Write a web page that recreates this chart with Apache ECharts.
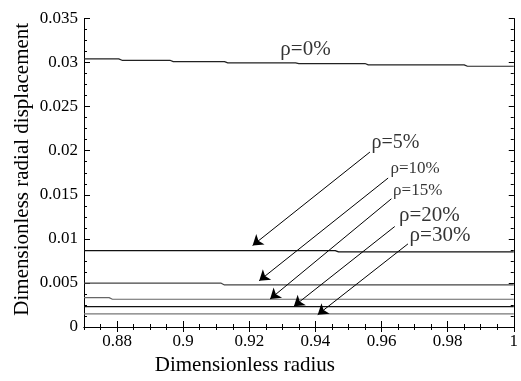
<!DOCTYPE html>
<html>
<head>
<meta charset="utf-8">
<script src="https://cdn.jsdelivr.net/npm/echarts@6/dist/echarts.min.js"></script>
<style>
html,body{margin:0;padding:0;background:#fff;}
#chart{width:521px;height:381px;}
</style>
</head>
<body>
<div id="chart"></div>
<script>
// ---- data ----
const xTickLabels = [0.88, 0.9, 0.92, 0.94, 0.96, 0.98, 1];
const yTickLabels = [0, 0.005, 0.01, 0.015, 0.02, 0.025, 0.03, 0.035];

const rho0  = [[0.87,0.03042],[0.8805,0.03042],[0.8815,0.03026],[0.896,0.03026],[0.897,0.03011],[0.9125,0.03011],[0.9135,0.02997],[0.934,0.02997],[0.935,0.02989],[0.955,0.02989],[0.956,0.02974],[0.985,0.02974],[0.986,0.02958],[1,0.02958]];
const rho5  = [[0.87,0.00867],[0.946,0.00867],[0.947,0.00852],[1,0.00852]];
const rho10 = [[0.87,0.00497],[0.9115,0.00497],[0.9125,0.00477],[1,0.00477]];
const rho15 = [[0.87,0.00333],[0.8776,0.00333],[0.8786,0.00315],[1,0.00315]];
const rho20 = [[0.87,0.00231],[1,0.00231]];
const rho30 = [[0.87,0.00148],[1,0.00148]];

const labelTexts   = ['ρ=0%','ρ=5%','ρ=10%','ρ=15%','ρ=20%','ρ=30%'];
const labelAnchors = [[0.9294,0.03148],[0.9570,0.02091],[0.9627,0.01803],[0.9635,0.01549],[0.9653,0.01261],[0.9685,0.01034]];
const arrowFrom = [[0.9565,0.01985],[0.9620,0.01690],[0.9630,0.01455],[0.9640,0.01140],[0.9680,0.00943]];
const arrowTo   = [[0.9210,0.00925],[0.9230,0.00525],[0.9263,0.00318],[0.9335,0.00236],[0.9407,0.00140]];

// ---- styles ----
const FONT = '"Liberation Serif", "Times New Roman", serif';
const labelFontSizes = [21, 20, 17, 17, 21, 21];
const seriesColors = ['#222','#111','#444','#666','#111','#777'];

const chart = echarts.init(document.getElementById('chart'), null, {renderer:'canvas'});

const baseX = {type:'value', min:0.87, max:1, splitLine:{show:false}, gridIndex:0};
const baseY = {type:'value', min:0, max:0.035, splitLine:{show:false}, gridIndex:0};
const lineStyle = {color:'#000', width:1};

const xAxes = [
  Object.assign({}, baseX, {position:'bottom', interval:0.005,
    axisLine:{show:true, lineStyle},
    axisTick:{show:true, inside:true, length:6, lineStyle, customValues:xTickLabels},
    axisLabel:{show:true, margin:6, color:'#000', fontFamily:FONT, fontSize:17, customValues:xTickLabels,
      formatter: v => String(+v.toFixed(2))},
    name:'Dimensionless radius', nameLocation:'middle', nameGap:28, nameMoveOverlap:false,
    nameTextStyle:{fontFamily:FONT, fontSize:21, color:'#000', padding:[0,108,0,0]}}),
  Object.assign({}, baseX, {position:'bottom', interval:0.005,
    axisLine:{show:false}, axisTick:{show:true, inside:true, length:3, lineStyle}, axisLabel:{show:false}}),
  Object.assign({}, baseX, {position:'top', interval:0.005,
    axisLine:{show:true, lineStyle}, axisTick:{show:true, inside:true, length:3, lineStyle}, axisLabel:{show:false}}),
  Object.assign({}, baseX, {position:'top', interval:0.005,
    axisLine:{show:false}, axisTick:{show:true, inside:true, length:5, lineStyle, customValues:xTickLabels}, axisLabel:{show:false}})
];

const yAxes = [
  Object.assign({}, baseY, {position:'left', interval:0.005,
    axisLine:{show:true, lineStyle},
    axisTick:{show:true, inside:true, length:6, lineStyle},
    axisLabel:{show:true, margin:6, color:'#000', fontFamily:FONT, fontSize:17,
      formatter: v => String(+v.toFixed(3))},
    name:'Dimensionless radial displacement', nameLocation:'middle', nameGap:51, nameMoveOverlap:false,
    nameTextStyle:{fontFamily:FONT, fontSize:21, color:'#000', padding:[0,0,0,7]}}),
  Object.assign({}, baseY, {position:'left', interval:0.00125,
    axisLine:{show:false}, axisTick:{show:true, inside:true, length:3, lineStyle}, axisLabel:{show:false}}),
  Object.assign({}, baseY, {position:'right', interval:0.00125,
    axisLine:{show:true, lineStyle}, axisTick:{show:true, inside:true, length:3, lineStyle}, axisLabel:{show:false}}),
  Object.assign({}, baseY, {position:'right', interval:0.005,
    axisLine:{show:false}, axisTick:{show:true, inside:true, length:5, lineStyle}, axisLabel:{show:false}})
];

const curves = [rho0, rho5, rho10, rho15, rho20, rho30];
const series = curves.map((d, i) => ({
  type:'line', name:labelTexts[i], data:d, showSymbol:false, symbol:'none',
  lineStyle:{color:seriesColors[i], width:1.2}, xAxisIndex:0, yAxisIndex:0,
  silent:true, animation:false
}));

series.push({
  type:'scatter', name:'labels', xAxisIndex:0, yAxisIndex:0, symbolSize:0, silent:true, animation:false,
  data: labelAnchors.map((p, i) => ({
    value:[p[0], p[1]], name:labelTexts[i],
    label:{show:true, position:'right', distance:0, formatter:'{b}', color:'#000',
      fontFamily:FONT, fontSize:labelFontSizes[i]}
  }))
});

series.push({
  type:'line', name:'arrows', xAxisIndex:0, yAxisIndex:0, data:[], silent:true, animation:false,
  markLine:{
    silent:true, animation:false, symbol:['none','arrow'], symbolSize:10,
    lineStyle:{color:'#000', width:1, type:'solid'},
    label:{show:false},
    data: arrowFrom.map((p, i) => [{coord:p}, {coord:arrowTo[i]}])
  }
});

chart.setOption({
  animation:false,
  backgroundColor:'#fff',
  textStyle:{fontFamily:FONT},
  grid:{left:84, right:2.5, top:18.5, bottom:54, containLabel:false},
  xAxis:xAxes,
  yAxis:yAxes,
  series:series
});
</script>
</body>
</html>
